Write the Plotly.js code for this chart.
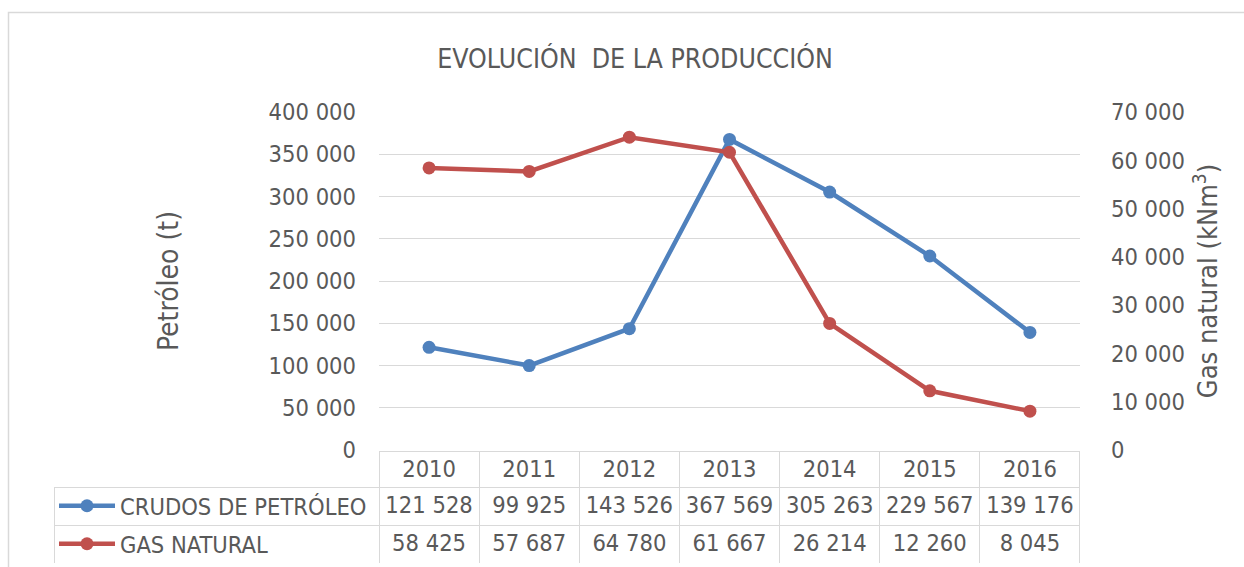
<!DOCTYPE html>
<html>
<head>
<meta charset="utf-8">
<script src="https://cdn.plot.ly/plotly-3.0.1.min.js"></script>
<style>html,body{margin:0;padding:0;background:#fff;}#chart{width:1244px;height:567px;}</style>
</head>
<body>
<div id="chart"></div>
<script>
// ---- data ----
const years = ["2010", "2011", "2012", "2013", "2014", "2015", "2016"];
const seriesNames = ["CRUDOS DE PETRÓLEO", "GAS NATURAL"];
const petroleo = [121528, 99925, 143526, 367569, 305263, 229567, 139176];
const gasNatural = [58425, 57687, 64780, 61667, 26214, 12260, 8045];
const leftTicks = [0, 50000, 100000, 150000, 200000, 250000, 300000, 350000, 400000];
const rightTicks = [0, 10000, 20000, 30000, 40000, 50000, 60000, 70000];

// ---- helpers ----
const W = 1244, H = 567;
const px = x => x / W;
const py = y => 1 - y / H;
const fmt = v => String(v).replace(/\B(?=(\d{3})+(?!\d))/g, "\u00a0");
const FONT = "DejaVu Sans Condensed, DejaVu Sans, sans-serif";
const TXT = "#595959";
const GRID = "#d9d9d9";
const BLUE = "#4F81BD";
const RED = "#C0504D";
const FS = 23.5;

const tracePet = {
  type: "scatter", mode: "lines+markers", name: seriesNames[0],
  x: years, y: petroleo, xaxis: "x", yaxis: "y",
  line: {color: BLUE, width: 4.5}, marker: {color: BLUE, size: 13},
  legend: "legend"
};
const traceGas = {
  type: "scatter", mode: "lines+markers", name: seriesNames[1],
  x: years, y: gasNatural, xaxis: "x", yaxis: "y2",
  line: {color: RED, width: 4.5}, marker: {color: RED, size: 13},
  legend: "legend2"
};

const headerLine = ["rgba(0,0,0,0)"].concat(years.map(() => GRID));
const headerFill = ["rgba(0,0,0,0)"].concat(years.map(() => "#ffffff"));
const table = {
  type: "table",
  domain: {x: [px(54), px(1080)], y: [py(563), py(451)]},
  columnwidth: [325].concat(years.map(() => 100.14)),
  header: {
    values: [""].concat(years),
    height: 36,
    align: "center",
    line: {color: headerLine, width: 1},
    fill: {color: headerFill},
    font: {family: FONT, size: FS, color: TXT}
  },
  cells: {
    values: [["", ""]].concat(years.map((y, i) => [fmt(petroleo[i]), fmt(gasNatural[i])])),
    height: 38,
    align: "center",
    line: {color: GRID, width: 1},
    fill: {color: "#ffffff"},
    font: {family: FONT, size: FS, color: TXT}
  }
};

const layout = {
  width: W, height: H,
  margin: {l: 0, r: 0, t: 0, b: 0},
  paper_bgcolor: "#ffffff", plot_bgcolor: "rgba(0,0,0,0)",
  separators: ", ",
  font: {family: FONT, size: FS, color: TXT},
  showlegend: true,
  title: {
    text: "EVOLUCIÓN\u00a0 DE LA PRODUCCIÓN",
    x: px(635), xanchor: "center", xref: "paper",
    y: py(59), yanchor: "middle", yref: "paper",
    font: {family: FONT, size: 26.5, color: TXT}
  },
  xaxis: {
    domain: [px(379), px(1080)], type: "category", range: [-0.5, 6.5],
    showticklabels: false, showgrid: false, zeroline: false, showline: false, ticks: ""
  },
  yaxis: {
    domain: [py(450), py(112)], range: [0, 400000], tickvals: leftTicks,
    ticktext: leftTicks.map(fmt),
    showgrid: true, gridcolor: GRID, gridwidth: 1, zeroline: false, showline: false,
    ticks: "", ticklabelstandoff: 22,
    tickfont: {family: FONT, size: FS, color: TXT},
    title: {text: "Petróleo (t)", standoff: 81, font: {family: FONT, size: 28, color: TXT}}
  },
  yaxis2: {
    overlaying: "y", side: "right", anchor: "x", range: [0, 70000], tickvals: rightTicks,
    ticktext: rightTicks.map(fmt),
    showgrid: false, zeroline: false, showline: false, ticks: "", ticklabelstandoff: 30,
    tickfont: {family: FONT, size: FS, color: TXT},
    title: {text: "Gas natural (kNm<sup>3</sup>)", standoff: 14, font: {family: FONT, size: 27, color: TXT}}
  },
  legend: {
    x: px(54), xanchor: "left", y: py(506), yanchor: "middle",
    bgcolor: "rgba(0,0,0,0)", borderwidth: 0, itemwidth: 56,
    font: {family: FONT, size: FS, color: TXT}
  },
  legend2: {
    x: px(54), xanchor: "left", y: py(544), yanchor: "middle",
    bgcolor: "rgba(0,0,0,0)", borderwidth: 0, itemwidth: 56,
    font: {family: FONT, size: FS, color: TXT}
  },
  shapes: [{
    type: "rect", xref: "paper", yref: "paper",
    x0: px(8.5), x1: px(1260), y0: py(600), y1: py(12.5),
    line: {color: GRID, width: 1.5}, fillcolor: "rgba(0,0,0,0)", layer: "below"
  }]
};

Plotly.newPlot("chart", [tracePet, traceGas, table], layout, {staticPlot: true, displayModeBar: false});
</script>
</body>
</html>
